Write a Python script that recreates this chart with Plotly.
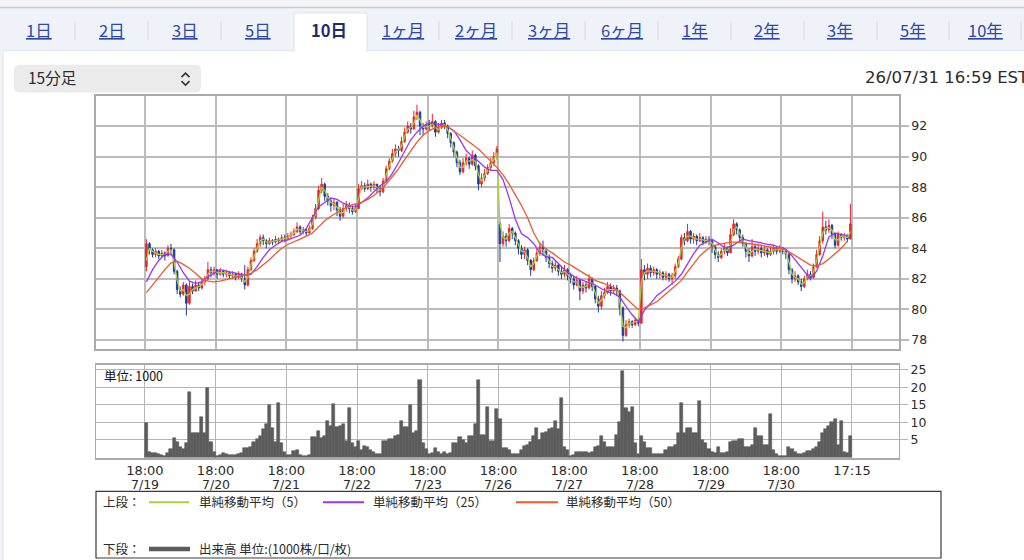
import plotly.graph_objects as go

W, H = 1024, 560

# ---- tabs / header text ----
tab_labels = ["1日", "2日", "3日", "5日", "10日", "1ヶ月", "2ヶ月", "3ヶ月",
              "6ヶ月", "1年", "2年", "3年", "5年", "10年"]
selected_tab = "10日"
interval_label = "15分足"
timestamp = "26/07/31 16:59 EST"

# ---- x axis: one session = 23 hourly bars, ticks at session start ----
bars_per_session = 23
tick_times = ["18:00"] * 10 + ["17:15"]
tick_dates = ["7/19", "7/20", "7/21", "7/22", "7/23", "7/26", "7/27", "7/28", "7/29", "7/30", ""]

price_ticks = [78, 80, 82, 84, 86, 88, 90, 92]
volume_ticks = [5, 10, 15, 20, 25]

# ---- price data ----
first_open = 82.8
gap_opens = {115: 85.6}  # weekend gap before the 7/26 session

closes = [
    84.3, 83.9, 83.6, 83.8, 83.5, 83.7, 83.5, 84.0, 83.9, 82.5, 81.3, 81.0, 81.6, 80.4, 81.5, 81.2, 81.6, 81.4, 81.8, 82.0, 82.6, 82.4, 82.6,
    82.3, 82.5, 82.3, 82.4, 82.2, 82.3, 82.1, 82.3, 82.0, 81.6, 82.6, 83.2, 83.8, 84.3, 84.7, 84.5, 84.3, 84.5, 84.4, 84.6, 84.5, 84.7, 84.6,
    84.8, 84.9, 85.1, 85.4, 85.1, 85.2, 85.0, 85.3, 86.0, 86.6, 87.8, 88.2, 87.4, 87.1, 86.8, 87.0, 86.5, 86.1, 86.6, 86.8, 86.6, 86.4, 86.6,
    87.9, 88.1, 87.9, 88.2, 88.0, 88.2, 87.9, 87.7, 88.4, 89.2, 89.7, 90.2, 90.5, 90.4, 91.0, 91.6, 92.0, 91.8, 92.6, 92.9, 92.0, 91.8, 92.1,
    92.0, 92.3, 91.6, 91.9, 92.2, 92.0, 91.5, 90.9, 90.3, 89.6, 89.0, 89.6, 89.9, 89.5, 90.1, 89.4, 88.2, 88.6, 88.9, 89.3, 89.6, 90.0, 90.5,
    84.3, 84.8, 84.5, 85.3, 85.0, 84.5, 84.0, 83.6, 83.9, 83.2, 82.6, 83.2, 83.7, 84.1, 83.8, 83.4, 83.0, 82.7, 82.9, 82.5, 82.3, 82.6, 82.2,
    82.0, 81.6, 81.9, 81.2, 81.6, 81.4, 82.0, 81.5, 80.7, 80.2, 80.9, 81.1, 81.5, 81.2, 81.4, 81.2, 80.1, 78.3, 79.0, 79.2, 79.0, 79.3, 79.1,
    82.6, 82.3, 82.7, 82.4, 82.6, 82.3, 82.4, 82.1, 82.3, 82.0, 82.2, 82.8, 83.3, 84.7, 84.5, 85.1, 84.6, 84.8, 84.5, 84.7, 84.4, 84.6, 84.5,
    84.1, 83.6, 83.4, 83.8, 84.0, 83.7, 84.9, 85.6, 85.2, 84.7, 84.3, 83.8, 83.5, 84.1, 83.8, 84.0, 83.7, 83.9, 83.6, 83.8, 84.0, 83.8, 84.0,
    83.8, 83.6, 82.6, 82.0, 82.2, 81.8, 81.5, 82.0, 82.3, 82.1, 82.8, 83.6, 84.5, 85.4, 85.2, 85.5, 84.9, 84.2, 84.9, 84.7, 84.8, 84.6, 85.6,
]

highs = [
    84.6, 84.4, 84.0, 84.0, 83.9, 83.9, 83.8, 84.2, 84.3, 84.0, 82.6, 81.5, 81.8, 81.7, 81.8, 81.7, 81.9, 81.8, 82.0, 82.2, 83.1, 82.8, 82.8,
    82.6, 82.7, 82.6, 82.6, 82.5, 82.5, 82.4, 82.5, 82.4, 82.9, 82.8, 83.4, 84.0, 84.6, 84.9, 84.9, 84.6, 84.7, 84.6, 84.8, 84.7, 84.9, 84.9,
    85.0, 85.1, 85.3, 85.7, 85.5, 85.4, 85.3, 85.5, 86.2, 86.9, 88.1, 88.6, 88.3, 87.6, 87.3, 87.3, 87.1, 86.7, 86.9, 87.1, 87.0, 86.8, 86.9,
    88.2, 88.4, 88.3, 88.5, 88.3, 88.4, 88.2, 88.1, 88.6, 89.4, 89.9, 90.5, 90.8, 90.7, 91.3, 91.9, 92.3, 92.2, 93.0, 93.4, 93.0, 92.2, 92.3,
    92.4, 92.8, 92.4, 92.2, 92.4, 92.4, 92.1, 91.6, 91.0, 90.4, 89.8, 89.9, 90.2, 90.0, 90.4, 90.2, 89.5, 88.9, 89.2, 89.5, 89.9, 90.3, 90.7,
    85.8, 85.1, 85.0, 85.6, 85.4, 85.1, 84.6, 84.2, 84.1, 84.0, 83.3, 83.4, 84.0, 84.4, 84.5, 84.0, 83.6, 83.2, 83.2, 83.0, 82.8, 82.9, 82.7,
    82.4, 82.2, 82.2, 82.0, 81.8, 81.8, 82.3, 82.1, 81.6, 80.9, 81.2, 81.4, 81.8, 81.7, 81.6, 81.6, 81.3, 80.2, 79.3, 79.4, 79.3, 79.5, 79.4,
    83.3, 82.9, 83.0, 82.9, 82.8, 82.7, 82.6, 82.5, 82.5, 82.4, 82.4, 83.0, 83.5, 84.9, 85.0, 85.6, 85.2, 85.0, 84.9, 85.0, 84.8, 84.8, 84.8,
    84.5, 84.2, 83.8, 84.0, 84.3, 84.1, 85.3, 85.9, 85.7, 85.3, 84.9, 84.4, 84.0, 84.6, 84.3, 84.3, 84.2, 84.2, 84.0, 84.1, 84.2, 84.1, 84.2,
    84.1, 83.9, 83.7, 82.7, 82.5, 82.3, 82.0, 82.2, 82.6, 82.5, 83.0, 83.9, 84.8, 86.4, 85.8, 85.9, 85.6, 85.0, 85.1, 85.0, 85.0, 84.9, 86.9,
]

lows = [
    82.5, 83.6, 83.4, 83.4, 83.3, 83.4, 83.2, 83.5, 83.6, 82.3, 81.0, 80.8, 80.9, 79.6, 80.3, 81.0, 81.2, 81.2, 81.3, 81.6, 81.9, 82.1, 82.2,
    82.0, 82.2, 82.1, 82.1, 82.0, 82.0, 81.9, 82.0, 81.8, 81.3, 81.5, 82.5, 83.1, 83.7, 84.1, 84.2, 84.0, 84.2, 84.2, 84.3, 84.3, 84.4, 84.4,
    84.5, 84.6, 84.8, 85.0, 84.9, 84.9, 84.8, 85.0, 85.2, 85.9, 86.5, 87.6, 87.1, 86.8, 86.4, 86.5, 86.1, 85.8, 86.0, 86.4, 86.3, 86.2, 86.3,
    86.6, 87.8, 87.7, 87.8, 87.7, 87.8, 87.6, 87.4, 87.6, 88.3, 89.1, 89.6, 90.0, 90.0, 90.3, 90.9, 91.5, 91.5, 91.8, 92.4, 91.4, 91.4, 91.7,
    91.7, 91.9, 91.3, 91.5, 91.8, 91.8, 91.2, 90.6, 90.0, 89.3, 88.8, 88.9, 89.4, 89.2, 89.4, 89.1, 87.8, 88.0, 88.4, 88.8, 89.1, 89.4, 89.8,
    83.1, 84.1, 84.1, 84.4, 84.6, 84.2, 83.6, 83.3, 83.3, 82.9, 82.2, 82.5, 83.1, 83.5, 83.5, 83.1, 82.7, 82.4, 82.5, 82.2, 82.0, 82.1, 81.9,
    81.7, 81.3, 81.5, 80.6, 81.0, 81.1, 81.3, 81.2, 80.4, 79.8, 80.0, 80.7, 81.0, 80.9, 81.0, 80.9, 79.6, 77.9, 78.2, 78.8, 78.8, 78.9, 78.9,
    79.1, 81.9, 82.0, 82.1, 82.2, 82.0, 82.0, 81.9, 81.9, 81.8, 81.6, 82.0, 82.7, 83.2, 84.2, 84.4, 84.3, 84.3, 84.2, 84.4, 84.2, 84.3, 84.2,
    83.7, 83.3, 83.1, 83.3, 83.6, 83.5, 83.7, 84.8, 84.9, 84.4, 84.1, 83.4, 83.1, 83.4, 83.5, 83.6, 83.4, 83.5, 83.4, 83.5, 83.6, 83.6, 83.7,
    83.6, 83.3, 82.3, 81.7, 81.8, 81.6, 81.2, 81.4, 81.9, 81.9, 82.0, 82.7, 83.5, 84.3, 84.9, 85.0, 84.6, 84.0, 84.1, 84.5, 84.5, 84.4, 84.6,
]

# moving averages as drawn (ma5 per bar, ma25 / ma50 every second bar)
ma5 = [
    83.2, 84.0, 83.8, 83.7, 83.6, 83.6, 83.6, 83.8, 83.9, 83.1, 81.9, 81.2, 81.3, 80.9, 81.0, 81.3, 81.4, 81.5, 81.6, 81.9, 82.3, 82.5, 82.5,
    82.4, 82.4, 82.4, 82.35, 82.3, 82.25, 82.2, 82.2, 82.1, 81.8, 82.1, 82.9, 83.5, 84.0, 84.5, 84.6, 84.4, 84.4, 84.45, 84.5, 84.55, 84.6, 84.65,
    84.7, 84.85, 85.0, 85.25, 85.2, 85.15, 85.1, 85.15, 85.6, 86.3, 87.2, 88.0, 87.8, 87.3, 87.0, 86.9, 86.7, 86.3, 86.35, 86.7, 86.7, 86.5, 86.5,
    87.3, 88.0, 88.0, 88.05, 88.1, 88.1, 88.0, 87.8, 88.0, 88.8, 89.4, 89.9, 90.3, 90.45, 90.7, 91.3, 91.8, 91.9, 92.2, 92.7, 92.4, 91.9, 91.95,
    92.0, 92.15, 91.9, 91.75, 92.0, 92.1, 91.75, 91.2, 90.6, 89.95, 89.3, 89.3, 89.7, 89.7, 89.8, 89.7, 88.8, 88.4, 88.75, 89.1, 89.45, 89.8, 90.25,
    85.6, 84.7, 84.6, 85.0, 85.1, 84.7, 84.2, 83.8, 83.8, 83.4, 82.8, 83.0, 83.5, 83.9, 83.9, 83.55, 83.1, 82.8, 82.8, 82.6, 82.4, 82.5, 82.3,
    82.1, 81.8, 81.8, 81.45, 81.45, 81.5, 81.8, 81.7, 81.0, 80.4, 80.6, 81.0, 81.3, 81.3, 81.3, 81.3, 80.5, 78.9, 78.8, 79.1, 79.1, 79.2, 79.2,
    81.8, 82.4, 82.5, 82.5, 82.5, 82.45, 82.4, 82.25, 82.25, 82.1, 82.1, 82.5, 83.0, 84.0, 84.6, 84.8, 84.8, 84.7, 84.6, 84.6, 84.55, 84.5, 84.55,
    84.3, 83.85, 83.5, 83.6, 83.9, 83.85, 84.3, 85.2, 85.4, 84.95, 84.5, 84.05, 83.65, 83.8, 83.95, 83.9, 83.85, 83.8, 83.75, 83.7, 83.9, 83.9, 83.9,
    83.9, 83.7, 83.1, 82.3, 82.1, 82.0, 81.65, 81.75, 82.15, 82.2, 82.45, 83.2, 84.0, 85.0, 85.3, 85.35, 85.2, 84.55, 84.55, 84.8, 84.75, 84.7, 85.1,
]

ma25 = [
    81.8, 82.6, 83.2, 83.6, 83.6, 83.1, 82.4, 81.85, 81.7, 81.8, 82.15, 82.4,
    82.6, 82.5, 82.4, 82.3, 82.25, 82.3, 82.8, 83.4, 83.9, 84.2, 84.45, 84.55,
    84.7, 84.85, 85.3, 86.0, 86.7, 87.0, 87.3, 87.2, 86.95, 86.8, 86.7,
    87.0, 87.3, 87.7, 88.1, 88.35, 88.9, 89.6, 90.4, 91.1, 91.6, 92.0, 92.2,
    92.15, 92.1, 91.95, 91.7, 91.1, 90.4, 90.0, 89.7, 89.3, 89.1, 89.1,
    88.5, 87.3, 85.9, 84.95, 84.7, 84.3, 83.7, 83.45, 83.4, 83.0, 82.6, 82.3,
    82.05, 81.9, 81.75, 81.6, 81.35, 81.15, 81.05, 80.8, 80.2, 79.65, 79.2,
    79.95, 80.4, 80.9, 81.2, 81.5, 81.85, 82.3, 83.0, 83.65, 84.2, 84.4, 84.6,
    84.35, 84.05, 84.1, 84.35, 84.6, 84.5, 84.4, 84.35, 84.25, 84.2, 84.05,
    83.95, 83.5, 83.0, 82.5, 82.0, 82.5, 83.5, 84.75, 85.0, 84.9, 84.85,
]

ma50 = [
    81.1, 81.6, 82.15, 82.6, 83.05, 83.15, 82.95, 82.7, 82.35, 82.0, 81.85, 81.8,
    81.85, 81.95, 82.1, 82.15, 82.25, 82.35, 82.6, 82.9, 83.25, 83.65, 84.0, 84.25,
    84.4, 84.6, 84.8, 85.0, 85.4, 85.8, 86.1, 86.35, 86.6, 86.8, 86.9,
    87.0, 87.2, 87.45, 87.8, 88.2, 88.7, 89.2, 89.8, 90.4, 90.95, 91.4, 91.7,
    91.9, 92.0, 91.95, 91.7, 91.4, 91.1, 90.8, 90.5, 90.1, 89.7, 89.3,
    88.8, 88.2, 87.5, 86.8, 86.0, 85.0, 84.3, 83.95, 83.7, 83.4, 83.1, 82.9,
    82.65, 82.4, 82.15, 81.9, 81.75, 81.6, 81.45, 81.1, 80.7, 80.35, 80.0,
    80.1, 80.3, 80.5, 80.85, 81.2, 81.55, 81.9, 82.45, 83.0, 83.5, 83.85, 84.15,
    84.25, 84.35, 84.4, 84.4, 84.35, 84.3, 84.25, 84.2, 84.1, 84.05, 84.0,
    83.9, 83.65, 83.35, 83.1, 82.9, 82.85, 83.0, 83.3, 83.65, 84.0, 84.45,
]

# volume, unit 1000
volumes = [
    9.7, 1.5, 1.3, 1.2, 1.0, 0.8, 0.5, 1.2, 2.5, 5.5, 4.5, 3.0, 2.5, 4.0, 18.5, 7.0, 7.0, 7.0, 11.5, 7.0, 19.8, 4.5, 1.5,
    0.5, 0.6, 1.2, 1.0, 0.8, 0.7, 0.8, 0.9, 1.2, 2.8, 2.8, 3.0, 4.5, 5.2, 6.0, 8.0, 9.5, 14.8, 8.5, 4.5, 15.6, 4.0, 1.5,
    0.8, 0.7, 1.8, 2.2, 0.8, 0.5, 0.5, 0.8, 5.7, 5.7, 7.5, 5.5, 6.0, 10.5, 9.0, 15.3, 8.7, 9.0, 9.5, 4.7, 14.0, 4.0, 3.0,
    4.8, 2.0, 3.2, 3.0, 2.0, 1.5, 1.0, 1.0, 4.8, 4.8, 5.2, 5.2, 6.0, 6.5, 10.5, 8.7, 8.7, 14.8, 7.0, 7.5, 21.9, 4.0, 2.5,
    1.0, 1.2, 2.6, 1.5, 1.0, 1.5, 1.0, 1.2, 4.0, 4.0, 5.7, 5.0, 4.0, 6.0, 6.0, 9.5, 21.9, 6.5, 6.5, 14.5, 4.8, 4.8, 13.8,
    11.0, 2.6, 2.6, 2.0, 1.0, 1.0, 1.0, 2.0, 3.2, 3.6, 4.5, 6.0, 8.5, 5.0, 7.0, 7.3, 8.0, 8.5, 10.5, 8.0, 16.8, 3.0, 2.0,
    0.5, 0.6, 1.5, 1.5, 1.5, 1.5, 1.2, 1.5, 3.0, 3.2, 6.0, 4.5, 3.0, 3.0, 3.0, 6.5, 10.0, 24.7, 14.0, 13.0, 14.3, 4.0, 1.0,
    6.0, 4.5, 2.6, 2.6, 1.0, 1.0, 1.0, 1.0, 2.0, 3.0, 3.0, 3.6, 7.0, 15.6, 7.0, 8.5, 8.5, 7.0, 7.0, 16.2, 5.0, 4.0, 2.5,
    1.5, 1.2, 3.0, 1.2, 1.2, 1.5, 4.5, 4.8, 4.8, 5.2, 5.2, 3.0, 3.0, 3.5, 8.5, 6.0, 6.0, 3.6, 3.6, 12.5, 2.0, 1.0, 0.5,
    0.3, 0.5, 3.0, 2.5, 1.5, 1.0, 1.0, 1.2, 1.8, 1.8, 2.5, 3.0, 4.5, 7.0, 8.0, 9.0, 10.0, 11.0, 3.5, 10.5, 1.5, 1.2, 6.0,
]

# opens follow the previous close, except after the weekend gap
opens = [first_open] + closes[:-1]
for i, v in gap_opens.items():
    opens[i] = v

x_bar = [i + 0.5 for i in range(len(closes))]
x_ma5 = [i + 0.5 for i in range(len(ma5))]
x_ma25 = [2 * i + 0.5 for i in range(len(ma25))]
x_ma50 = [2 * i + 0.5 for i in range(len(ma50))]
x_vol = [i + 0.5 for i in range(len(volumes))]
session_ticks = [k * bars_per_session for k in range(len(tick_times))]


def px(x):
    return x / W


def py(y):
    return 1 - y / H


GRID = "#bcbcbc"
TXT = "#2b2b2b"
CJK = "Noto Sans CJK JP"

fig = go.Figure()

fig.add_trace(go.Candlestick(
    x=x_bar, open=opens, high=highs, low=lows, close=closes,
    increasing=dict(line=dict(color="#e8262d", width=1), fillcolor="#e8262d"),
    decreasing=dict(line=dict(color="#1d3b9f", width=1), fillcolor="#1d3b9f"),
    whiskerwidth=0, xaxis="x", yaxis="y", showlegend=False, hoverinfo="skip"))

fig.add_trace(go.Scatter(x=x_ma5, y=ma5, mode="lines", line=dict(color="#a9d33b", width=1.3),
                         xaxis="x", yaxis="y", showlegend=False, hoverinfo="skip"))
fig.add_trace(go.Scatter(x=x_ma25, y=ma25, mode="lines", line=dict(color="#9a35f6", width=1.3),
                         xaxis="x", yaxis="y", showlegend=False, hoverinfo="skip"))
fig.add_trace(go.Scatter(x=x_ma50, y=ma50, mode="lines", line=dict(color="#f2582c", width=1.3),
                         xaxis="x", yaxis="y", showlegend=False, hoverinfo="skip"))

fig.add_trace(go.Bar(x=x_vol, y=volumes, marker=dict(color="#5c5c5c", line=dict(color="#5c5c5c", width=0.6)),
                     xaxis="x2", yaxis="y2", showlegend=False, hoverinfo="skip"))

x_dom = [px(96), px(899)]
x_range = [-15.9, 245.3]
common_x = dict(domain=x_dom, range=x_range, tickvals=session_ticks, ticktext=tick_times,
                showgrid=True, gridcolor=GRID, gridwidth=1.5, zeroline=False,
                showline=True, mirror=True, linecolor="#aaaaaa", linewidth=1.5, ticks="",
                fixedrange=True)

shapes = []
annotations = []

# page chrome
shapes.append(dict(type="rect", xref="paper", yref="paper", x0=0, x1=1, y0=py(48), y1=py(5),
                   fillcolor="#eff2f9", line=dict(width=0), layer="below"))
shapes.append(dict(type="line", xref="paper", yref="paper", x0=0, x1=1, y0=py(4.5), y1=py(4.5),
                   line=dict(color="#c9c9c9", width=1.5)))
shapes.append(dict(type="rect", xref="paper", yref="paper", x0=px(3), x1=px(1030), y0=py(575), y1=py(48),
                   fillcolor="white", line=dict(color="#e1e4ec", width=1), layer="below"))
shapes.append(dict(type="rect", xref="paper", yref="paper", x0=px(294), x1=px(367), y0=py(49), y1=py(10),
                   fillcolor="white", line=dict(color="#dde1ea", width=1), layer="below"))
shapes.append(dict(type="rect", xref="paper", yref="paper", x0=px(294.6), x1=px(366.4), y0=py(51), y1=py(47),
                   fillcolor="white", line=dict(width=0), layer="below"))
for sx in [75, 148, 221, 439, 512, 585, 658, 731, 804, 877, 949, 1021]:
    shapes.append(dict(type="line", xref="paper", yref="paper", x0=px(sx), x1=px(sx), y0=py(37), y1=py(18),
                       line=dict(color="#d6dae4", width=1)))

tab_x = [38.5, 111.5, 184.5, 257.5, 329, 403, 476, 549, 622, 694.5, 767, 840, 913, 985.5]
for label, tx in zip(tab_labels, tab_x):
    if label == selected_tab:
        txt, col = "<b>%s</b>" % label, "#1c2c6e"
    else:
        txt, col = "<u>%s</u>" % label, "#2d48a9"
    annotations.append(dict(xref="paper", yref="paper", x=px(tx), y=py(27.5), text=txt, showarrow=False,
                            xanchor="center", yanchor="middle", font=dict(family=CJK, size=16.5, color=col)))

# interval dropdown
r = 6
x0d, x1d, y0d, y1d = 14, 201, 62, 90
path = ("M {a},{b} L {c},{b} Q {d},{b} {d},{e} L {d},{f} Q {d},{g} {c},{g} L {a},{g} Q {h},{g} {h},{f} "
        "L {h},{e} Q {h},{b} {a},{b} Z").format(
    a=px(x0d + r), b=py(y0d), c=px(x1d - r), d=px(x1d), e=py(y0d + r), f=py(y1d - r), g=py(y1d), h=px(x0d))
shapes.append(dict(type="path", xref="paper", yref="paper", path=path, fillcolor="#ebebeb",
                   line=dict(width=0), layer="below"))
shapes.append(dict(type="path", xref="paper", yref="paper",
                   path="M {},{} L {},{} L {},{}".format(px(181.5), py(74.5), px(185.5), py(70.5), px(189.5), py(74.5)),
                   line=dict(color="#333333", width=1.6)))
shapes.append(dict(type="path", xref="paper", yref="paper",
                   path="M {},{} L {},{} L {},{}".format(px(181.5), py(78.5), px(185.5), py(82.5), px(189.5), py(78.5)),
                   line=dict(color="#333333", width=1.6)))
annotations.append(dict(xref="paper", yref="paper", x=px(26), y=py(74.5), text=interval_label, showarrow=False,
                        xanchor="left", yanchor="middle", font=dict(family=CJK, size=15.5, color=TXT)))
# the timestamp runs past the right edge, as in the original page
annotations.append(dict(xref="paper", yref="paper", x=px(863), y=py(75), text=timestamp, showarrow=False,
                        xanchor="left", yanchor="middle", font=dict(family="DejaVu Sans", size=16.5, color=TXT)))

# date line under the time tick labels
for tv, d in zip(session_ticks, tick_dates):
    if d:
        annotations.append(dict(xref="x2", yref="paper", x=tv, y=py(484.5), text=d, showarrow=False,
                                xanchor="center", yanchor="middle",
                                font=dict(family="DejaVu Sans", size=12.5, color=TXT)))

# volume unit label
annotations.append(dict(xref="paper", yref="paper", x=px(102), y=py(375), text="単位: 1000", showarrow=False,
                        xanchor="left", yanchor="middle", font=dict(family=CJK, size=12.5, color="#111111")))

# legend box
shapes.append(dict(type="rect", xref="paper", yref="paper", x0=px(96), x1=px(941), y0=py(558), y1=py(491),
                   line=dict(color="#3a3a3a", width=1.2), fillcolor="rgba(0,0,0,0)"))
legend_rows = [
    (501, "上段：", [("#a9d33b", 149, 189, "単純移動平均（5）", 197),
                    ("#9a35f6", 323, 364, "単純移動平均（25）", 371),
                    ("#f2582c", 516, 558, "単純移動平均（50）", 564)], 2),
    (548, "下段：", [("#5c5c5c", 149, 190, "出来高 単位:(1000株/口/枚)", 197)], 4.5),
]
for ly, head, items, lw in legend_rows:
    annotations.append(dict(xref="paper", yref="paper", x=px(101), y=py(ly), text=head, showarrow=False,
                            xanchor="left", yanchor="middle", font=dict(family=CJK, size=12.5, color=TXT)))
    for col, lx0, lx1, txt, tx in items:
        shapes.append(dict(type="line", xref="paper", yref="paper", x0=px(lx0), x1=px(lx1), y0=py(ly + 1), y1=py(ly + 1),
                           line=dict(color=col, width=lw)))
        annotations.append(dict(xref="paper", yref="paper", x=px(tx), y=py(ly), text=txt, showarrow=False,
                                xanchor="left", yanchor="middle", font=dict(family=CJK, size=12.5, color=TXT)))

fig.update_layout(
    width=W, height=H,
    margin=dict(l=0, r=0, t=0, b=0),
    paper_bgcolor="#f3f4f8",
    plot_bgcolor="white",
    bargap=0,
    showlegend=False,
    xaxis=dict(common_x, anchor="y", showticklabels=False, rangeslider=dict(visible=False)),
    yaxis=dict(domain=[py(348), py(93)], range=[77.4, 94.0], side="right", tickvals=price_ticks,
               showgrid=True, gridcolor=GRID, gridwidth=1.5, zeroline=False,
               showline=True, mirror=True, linecolor="#aaaaaa", linewidth=1.5,
               ticks="outside", ticklen=8, tickcolor=GRID, tickwidth=1.5,
               tickfont=dict(family="DejaVu Sans", size=12.5, color=TXT), fixedrange=True),
    xaxis2=dict(common_x, anchor="y2", showticklabels=True, gridwidth=1, gridcolor="#b5b5b5",
                tickfont=dict(family="DejaVu Sans", size=13, color=TXT)),
    yaxis2=dict(domain=[py(457), py(364)], range=[0, 26.3], side="right", tickvals=volume_ticks,
                showgrid=True, gridcolor="#b5b5b5", gridwidth=1, zeroline=False,
                showline=True, mirror=True, linecolor="#aaaaaa", linewidth=1.2,
                ticks="outside", ticklen=8, tickcolor="#b5b5b5", tickwidth=1,
                tickfont=dict(family="DejaVu Sans", size=12.5, color=TXT), fixedrange=True),
    shapes=shapes,
    annotations=annotations,
)

fig.write_html("out.html", config={"displayModeBar": False},
               post_script="document.body.style.margin='0';")
